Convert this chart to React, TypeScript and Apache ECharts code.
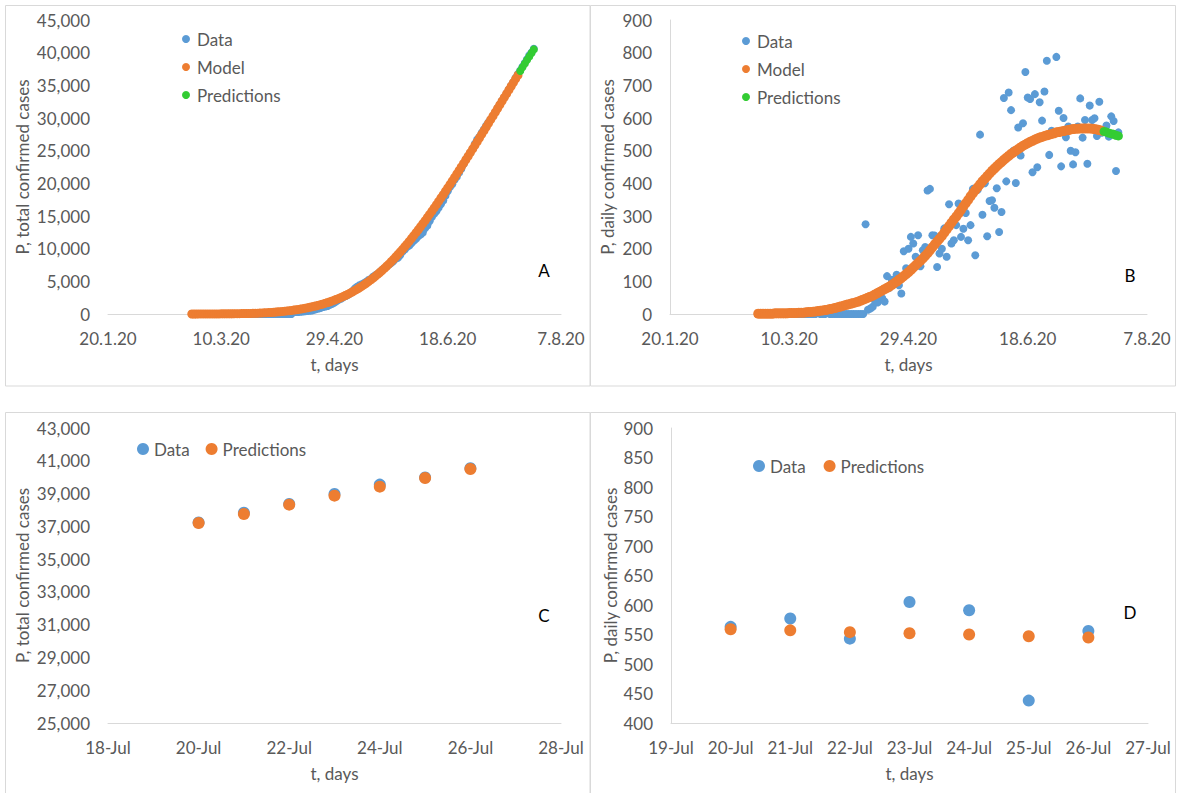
import React, { useEffect, useRef } from "react";
import * as echarts from "echarts";

// ---- Axis tick labels ----
// Panels A and B: days counted from 20 Jan 2020, a tick every 50 days
const dateTickLabels = ["20.1.20", "10.3.20", "29.4.20", "18.6.20", "7.8.20"];
const dateTickStep = 50;
// Panel C y ticks
const totalTicksC = [25000, 27000, 29000, 31000, 33000, 35000, 37000, 39000, 41000, 43000];

// ---- Daily confirmed cases (data), from day 37 (26 Feb 2020) to day 188 (26 Jul 2020) ----
const firstDay = 37;
const dailyData = [
  0, 0, 0, 0, 0, 0, 0, 0, 0, 0,
  0, 0, 0, 0, 0, 0, 0, 0, 0, 0,
  0, 0, 0, 0, 0, 6, 0, 0, 0, 4,
  0, 0, 0, 0, 0, 0, 0, 0, 0, 0,
  0, 0, 0, 0, 0,
  275, 13, 17, 22, 38, 35, 52, 48, 38, 116,
  80, 105, 94, 120, 88, 63, 192, 140, 200, 236,
  216, 175, 241, 146, 195, 205, 378, 383, 241, 240,
  144, 185, 200, 262, 175, 336, 216, 226, 272, 338,
  236, 261, 309, 226, 272, 383, 180, 380, 549, 304,
  400, 238, 346, 348, 325, 385, 251, 312, 661, 406,
  678, 624, 500, 401, 571, 485, 584, 741, 663, 658,
  434, 673, 449, 648, 592, 681, 775, 487, 561, 555,
  787, 622, 452, 600, 541, 574, 500, 458, 495, 574,
  660, 540, 594, 460, 638, 594, 599, 545, 650, 555,
  563, 577, 543, 605, 591, 438, 556,
];

// ---- Daily confirmed cases (model), from day 37 to day 181 (19 Jul 2020) ----
const dailyModel = [
  1, 1, 1, 1, 1, 1, 1, 2, 2, 2, 2, 2, 2, 3, 3, 3, 3, 4, 4, 4, 5,
  6, 6, 7, 8, 9, 10, 11, 12, 13, 15, 16, 18, 20, 22,
  24, 26, 28, 30, 32, 34, 36,
  38, 41, 44, 47, 50, 53, 56,
  60, 64, 68, 72, 76, 80, 84,
  89, 94, 99, 105, 110, 116, 122,
  128, 135, 142, 149, 156, 163, 170,
  178, 186, 195, 204, 213, 222, 230,
  239, 249, 259, 269, 279, 289, 298,
  308, 318, 329, 339, 349, 360, 370,
  379, 388, 397, 406, 414, 422, 430,
  438, 445, 452, 459, 465, 472, 478,
  484, 490, 495, 500, 505, 510, 515,
  519, 523, 527, 530, 534, 537, 540,
  542, 545, 547, 549, 551, 553, 556,
  557, 559, 560, 562, 563, 565, 566,
  567, 567, 568, 568, 568, 568, 568,
  567, 566, 565, 563, 561,
];

// ---- Prediction week: 20 Jul (day 182) .. 26 Jul (day 188) ----
const predFirstDay = 182;
const julyDays = [20, 21, 22, 23, 24, 25, 26];
const dailyDataJul = [563, 577, 543, 605, 591, 438, 556];
const dailyPredJul = [559, 557, 554, 552, 550, 547, 545];
const totalDataJul = [37230, 37830, 38360, 38970, 39545, 39985, 40540];
const totalPredJul = [37204, 37753, 38322, 38871, 39422, 39950, 40500];

const blue = "#5B9BD5";
const orange = "#ED7D31";
const green = "#33CC33";
const grey = "#595959";
const axisGrey = "#D9D9D9";
const font = "Lato, 'Noto Sans', sans-serif";

function runningTotal(values: number[]): number[] {
  let s = 0;
  return values.map((v) => (s += v));
}

const fmtThousands = (v: number) => Math.round(v).toLocaleString("en-US");
const julyLabel = (v: number) => `${Math.round(v)}-Jul`;

export default function App() {
  const ref = useRef<HTMLDivElement>(null);

  useEffect(() => {
    const chart = echarts.init(ref.current!, null, { renderer: "svg" });

    const totalData = runningTotal(dailyData);
    const totalModel = runningTotal(dailyModel);

    const pairs = (start: number, vals: number[]) => vals.map((v, i) => [start + i, v]);
    const julPairs = (vals: number[]) => vals.map((v, i) => [julyDays[i], v]);

    const labelStyle = { color: grey, fontSize: 17, fontFamily: font };
    const nameStyle = { color: grey, fontSize: 17, fontFamily: font };
    const hidden = { show: false };

    const xDate = (gridIndex: number) => ({
      type: "value",
      gridIndex,
      min: 0,
      max: 200,
      interval: dateTickStep,
      axisLine: { show: true, onZero: false, lineStyle: { color: axisGrey, width: 1 } },
      axisTick: hidden,
      splitLine: hidden,
      axisLabel: {
        ...labelStyle,
        margin: 16,
        formatter: (v: number) => dateTickLabels[Math.round(v / dateTickStep)] ?? "",
      },
      name: "t, days",
      nameLocation: "middle",
      nameGap: 42,
      nameTextStyle: nameStyle,
    });

    const legendText = { ...labelStyle, lineHeight: 20 };
    const dot = (color: string) => ({ color, opacity: 1 });

    const option: any = {
      animation: false,
      backgroundColor: "#ffffff",
      textStyle: { fontFamily: font },
      grid: [
        { left: 108, top: 20, width: 453, height: 294, outerBoundsMode: "none" },
        { left: 670, top: 20, width: 477, height: 294, outerBoundsMode: "none" },
        { left: 108, top: 428, width: 453, height: 295, outerBoundsMode: "none" },
        { left: 671, top: 428, width: 477, height: 295, outerBoundsMode: "none" },
      ],
      xAxis: [
        xDate(0),
        xDate(1),
        {
          type: "value",
          gridIndex: 2,
          min: 18,
          max: 28,
          interval: 2,
          axisLine: { show: true, onZero: false, lineStyle: { color: axisGrey, width: 1 } },
          axisTick: hidden,
          splitLine: hidden,
          axisLabel: { ...labelStyle, margin: 16, formatter: julyLabel },
          name: "t, days",
          nameLocation: "middle",
          nameGap: 42,
          nameTextStyle: nameStyle,
        },
        {
          type: "value",
          gridIndex: 3,
          min: 19,
          max: 27,
          interval: 1,
          axisLine: { show: true, onZero: false, lineStyle: { color: axisGrey, width: 1 } },
          axisTick: hidden,
          splitLine: hidden,
          axisLabel: { ...labelStyle, margin: 16, formatter: julyLabel },
          name: "t, days",
          nameLocation: "middle",
          nameGap: 42,
          nameTextStyle: nameStyle,
        },
      ],
      yAxis: [
        {
          type: "value",
          gridIndex: 0,
          min: 0,
          max: 45000,
          interval: 5000,
          axisLine: hidden,
          axisTick: hidden,
          splitLine: hidden,
          axisLabel: { ...labelStyle, margin: 18, formatter: fmtThousands },
          name: "P, total confirmed cases",
          nameLocation: "middle",
          nameGap: 77,
          nameTextStyle: nameStyle,
        },
        {
          type: "value",
          gridIndex: 1,
          min: 0,
          max: 900,
          interval: 100,
          axisLine: { show: true, lineStyle: { color: axisGrey, width: 1 } },
          axisTick: hidden,
          splitLine: hidden,
          axisLabel: { ...labelStyle, margin: 18, formatter: fmtThousands },
          name: "P, daily confirmed cases",
          nameLocation: "middle",
          nameGap: 54,
          nameTextStyle: nameStyle,
        },
        {
          type: "value",
          gridIndex: 2,
          min: 25000,
          max: 43000,
          axisLine: hidden,
          axisTick: { show: false, customValues: totalTicksC },
          splitLine: hidden,
          axisLabel: { ...labelStyle, margin: 18, formatter: fmtThousands, customValues: totalTicksC },
          name: "P, total confirmed cases",
          nameLocation: "middle",
          nameGap: 77,
          nameTextStyle: nameStyle,
        },
        {
          type: "value",
          gridIndex: 3,
          min: 400,
          max: 900,
          interval: 50,
          axisLine: { show: true, lineStyle: { color: axisGrey, width: 1 } },
          axisTick: hidden,
          splitLine: hidden,
          axisLabel: { ...labelStyle, margin: 18, formatter: fmtThousands },
          name: "P, daily confirmed cases",
          nameLocation: "middle",
          nameGap: 52,
          nameTextStyle: nameStyle,
        },
      ],
      legend: [
        {
          orient: "vertical",
          left: 177,
          top: 24,
          itemWidth: 12,
          itemHeight: 8,
          itemGap: 8,
          icon: "circle",
          selectedMode: false,
          textStyle: legendText,
          data: [
            { name: "Data", itemStyle: dot(blue) },
            { name: "Model", itemStyle: dot(orange) },
            { name: "Predictions", itemStyle: dot(green) },
          ],
        },
        {
          orient: "vertical",
          left: 737,
          top: 26,
          itemWidth: 12,
          itemHeight: 8,
          itemGap: 8,
          icon: "circle",
          selectedMode: false,
          textStyle: legendText,
          data: [
            { name: "Data", itemStyle: dot(blue) },
            { name: "Model", itemStyle: dot(orange) },
            { name: "Predictions", itemStyle: dot(green) },
          ],
        },
        {
          orient: "horizontal",
          left: 132,
          top: 434,
          itemWidth: 12,
          itemHeight: 12,
          itemGap: 16,
          icon: "circle",
          selectedMode: false,
          textStyle: legendText,
          data: [
            { name: "Data", itemStyle: dot(blue) },
            { name: "Predictions", itemStyle: dot(orange) },
          ],
        },
        {
          orient: "horizontal",
          left: 748,
          top: 451,
          itemWidth: 12,
          itemHeight: 12,
          itemGap: 18,
          icon: "circle",
          selectedMode: false,
          textStyle: legendText,
          data: [
            { name: "Data", itemStyle: dot(blue) },
            { name: "Predictions", itemStyle: dot(orange) },
          ],
        },
      ],
      series: [
        // Panel A
        { type: "scatter", name: "Data", xAxisIndex: 0, yAxisIndex: 0, symbolSize: 8, itemStyle: dot(blue), data: pairs(firstDay, totalData) },
        { type: "scatter", name: "Model", xAxisIndex: 0, yAxisIndex: 0, symbolSize: 9, itemStyle: dot(orange), data: pairs(firstDay, totalModel) },
        { type: "scatter", name: "Predictions", xAxisIndex: 0, yAxisIndex: 0, symbolSize: 8, itemStyle: dot(green), data: pairs(predFirstDay, totalPredJul) },
        // Panel B
        { type: "scatter", name: "Data", xAxisIndex: 1, yAxisIndex: 1, symbolSize: 8, itemStyle: dot(blue), data: pairs(firstDay, dailyData) },
        { type: "scatter", name: "Model", xAxisIndex: 1, yAxisIndex: 1, symbolSize: 10, itemStyle: dot(orange), data: pairs(firstDay, dailyModel) },
        { type: "scatter", name: "Predictions", xAxisIndex: 1, yAxisIndex: 1, symbolSize: 9, itemStyle: dot(green), data: pairs(predFirstDay, dailyPredJul) },
        // Panel C
        { type: "scatter", name: "Data", xAxisIndex: 2, yAxisIndex: 2, symbolSize: 12, itemStyle: dot(blue), data: julPairs(totalDataJul) },
        { type: "scatter", name: "Predictions", xAxisIndex: 2, yAxisIndex: 2, symbolSize: 12, itemStyle: dot(orange), data: julPairs(totalPredJul) },
        // Panel D
        { type: "scatter", name: "Data", xAxisIndex: 3, yAxisIndex: 3, symbolSize: 12, itemStyle: dot(blue), data: julPairs(dailyDataJul) },
        { type: "scatter", name: "Predictions", xAxisIndex: 3, yAxisIndex: 3, symbolSize: 12, itemStyle: dot(orange), data: julPairs(dailyPredJul) },
      ],
      graphic: [
        { type: "rect", silent: true, shape: { x: 5.5, y: 5.5, width: 584.5, height: 380.5 }, style: { fill: "none", stroke: axisGrey, lineWidth: 1 } },
        { type: "rect", silent: true, shape: { x: 590.5, y: 5.5, width: 585, height: 380.5 }, style: { fill: "none", stroke: axisGrey, lineWidth: 1 } },
        { type: "rect", silent: true, shape: { x: 5.5, y: 412.5, width: 584.5, height: 390 }, style: { fill: "none", stroke: axisGrey, lineWidth: 1 } },
        { type: "rect", silent: true, shape: { x: 590.5, y: 412.5, width: 585, height: 390 }, style: { fill: "none", stroke: axisGrey, lineWidth: 1 } },
        { type: "text", silent: true, style: { text: "A", x: 544, y: 270, textAlign: "center", textVerticalAlign: "middle", align: "center", verticalAlign: "middle", fontSize: 17, fontFamily: font, fill: "#000" } },
        { type: "text", silent: true, style: { text: "B", x: 1130, y: 275, textAlign: "center", textVerticalAlign: "middle", align: "center", verticalAlign: "middle", fontSize: 17, fontFamily: font, fill: "#000" } },
        { type: "text", silent: true, style: { text: "C", x: 544, y: 615, textAlign: "center", textVerticalAlign: "middle", align: "center", verticalAlign: "middle", fontSize: 17, fontFamily: font, fill: "#000" } },
        { type: "text", silent: true, style: { text: "D", x: 1130, y: 612, textAlign: "center", textVerticalAlign: "middle", align: "center", verticalAlign: "middle", fontSize: 17, fontFamily: font, fill: "#000" } },
      ],
    };

    chart.setOption(option);
    return () => chart.dispose();
  }, []);

  return (
    <div
      ref={ref}
      style={{ position: "fixed", left: 0, top: 0, width: 1177, height: 793, background: "#ffffff" }}
    />
  );
}
